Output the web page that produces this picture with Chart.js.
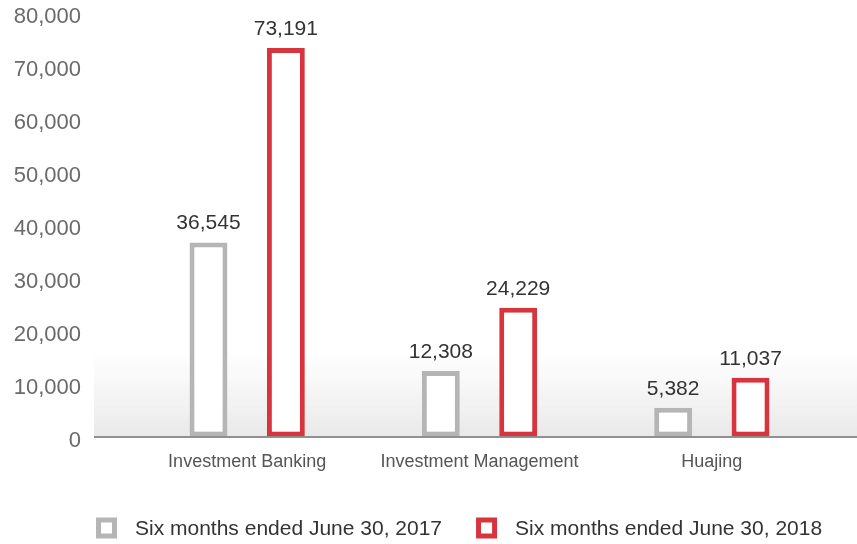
<!DOCTYPE html>
<html>
<head>
<meta charset="utf-8">
<style>
  html, body { margin: 0; padding: 0; background: #ffffff; }
  #wrap { width: 857px; height: 544px; }
</style>
<script src="https://cdn.jsdelivr.net/npm/chart.js@4.4.1/dist/chart.umd.min.js"></script>
</head>
<body>
<div id="wrap"><canvas id="segChart"></canvas></div>
<script>
// values
const categories = ['Investment Banking', 'Investment Management', 'Huajing'];
const seriesLabels = ['Six months ended June 30, 2017', 'Six months ended June 30, 2018'];
const values2017 = [36545, 12308, 5382];
const values2018 = [73191, 24229, 11037];
const yTicks = [0, 10000, 20000, 30000, 40000, 50000, 60000, 70000, 80000];

const FONT = "'Liberation Sans', Arial, Helvetica, sans-serif";
const GREY = '#b5b5b5';
const RED = '#d7343d';

// soft grey band behind the bottom of the plot + base line
const floorPlugin = {
    id: 'floor',
    beforeDatasetsDraw(chart, args, opts) {
        const { ctx, chartArea } = chart;
        const top = chartArea.bottom - opts.height;
        const grad = ctx.createLinearGradient(0, top, 0, chartArea.bottom);
        grad.addColorStop(0, 'rgba(236,236,236,0)');
        grad.addColorStop(1, '#e9e9e9');
        ctx.save();
        ctx.fillStyle = grad;
        ctx.fillRect(opts.left, top, chart.width - opts.left, opts.height);
        ctx.restore();
    },
    afterDatasetsDraw(chart, args, opts) {
        const { ctx, chartArea } = chart;
        ctx.save();
        ctx.strokeStyle = '#6e6e6e';
        ctx.lineWidth = 1.5;
        ctx.beginPath();
        ctx.moveTo(opts.left, chartArea.bottom + 0.5);
        ctx.lineTo(chart.width, chartArea.bottom + 0.5);
        ctx.stroke();
        ctx.restore();
    }
};

// numbers above the bars
const valueLabels = {
    id: 'valueLabels',
    afterDatasetsDraw(chart) {
        const ctx = chart.ctx;
        ctx.save();
        ctx.font = '21px ' + FONT;
        ctx.fillStyle = '#333333';
        ctx.textAlign = 'center';
        ctx.textBaseline = 'middle';
        chart.data.datasets.forEach((ds, i) => {
            chart.getDatasetMeta(i).data.forEach((bar, j) => {
                ctx.fillText(ds.data[j].toLocaleString('en-US'), bar.x, bar.y - 19);
            });
        });
        ctx.restore();
    }
};

// legend with outlined squares, drawn under the axis labels
const boxLegend = {
    id: 'boxLegend',
    afterDraw(chart, args, opts) {
        const ctx = chart.ctx;
        ctx.save();
        ctx.font = opts.size + 'px ' + FONT;
        let x = opts.left;
        const y = opts.y;
        const lw = 5;
        chart.data.datasets.forEach(ds => {
            const w = ctx.measureText(ds.label).width;
            ctx.fillStyle = '#ffffff';
            ctx.strokeStyle = ds.borderColor;
            ctx.lineWidth = lw;
            ctx.fillRect(x + lw / 2, y - opts.box / 2 + lw / 2, opts.box - lw, opts.box - lw);
            ctx.strokeRect(x + lw / 2, y - opts.box / 2 + lw / 2, opts.box - lw, opts.box - lw);
            ctx.fillStyle = '#333333';
            ctx.textAlign = 'left';
            ctx.textBaseline = 'middle';
            ctx.fillText(ds.label, x + opts.box + opts.gap, y + 1);
            x += opts.box + opts.gap + w + opts.spacing;
        });
        ctx.restore();
    }
};

const ctx = document.getElementById('segChart');
new Chart(ctx, {
    type: 'bar',
    data: {
        labels: categories,
        datasets: [
            {
                label: seriesLabels[0],
                data: values2017,
                backgroundColor: '#ffffff',
                borderColor: GREY,
                borderWidth: 5,
                borderSkipped: false
            },
            {
                label: seriesLabels[1],
                data: values2018,
                backgroundColor: '#ffffff',
                borderColor: RED,
                borderWidth: 5,
                borderSkipped: false
            }
        ]
    },
    plugins: [floorPlugin, valueLabels, boxLegend],
    options: {
        responsive: true,
        maintainAspectRatio: false,
        animation: false,
        categoryPercentage: 0.666,
        barPercentage: 0.49,
        layout: {
            padding: { top: 12, right: 29, bottom: 56, left: 0 }
        },
        plugins: {
            legend: { display: false },
            tooltip: { enabled: false },
            floor: { left: 94, height: 86 },
            boxLegend: { size: 21, box: 21, gap: 18, spacing: 34, left: 96, y: 528 }
        },
        scales: {
            x: {
                grid: { display: false, drawTicks: false },
                border: { display: false },
                ticks: {
                    color: '#555555',
                    padding: 15,
                    font: { family: FONT, size: 18 }
                }
            },
            y: {
                min: 0,
                max: 80000,
                afterFit(scale) {
                    scale.width = 131;
                    scale.paddingTop = 0;
                    scale.paddingBottom = 0;
                },
                afterBuildTicks(scale) { scale.ticks = yTicks.map(v => ({ value: v })); },
                grid: { display: false, drawTicks: false },
                border: { display: false },
                ticks: {
                    color: '#6a6a6a',
                    padding: 50,
                    labelOffset: 5,
                    font: { family: FONT, size: 22 },
                    callback: v => v.toLocaleString('en-US')
                }
            }
        }
    }
});
</script>
</body>
</html>
